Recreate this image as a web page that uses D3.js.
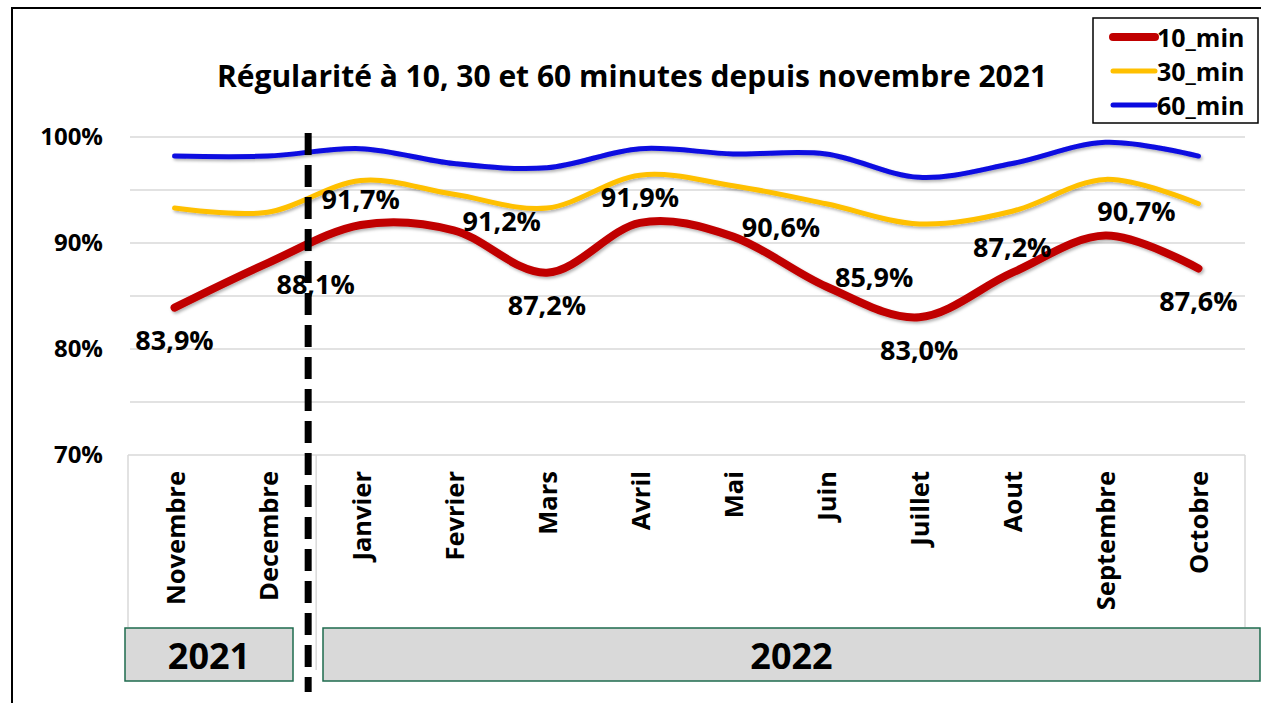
<!DOCTYPE html>
<html>
<head>
<meta charset="utf-8">
<script src="https://cdn.jsdelivr.net/npm/d3@7"></script>
<style>
  html, body { margin: 0; padding: 0; background: #fff; }
  svg { display: block; font-family: "Open Sans", sans-serif; font-weight: bold; }
</style>
</head>
<body>
<svg id="chart" width="1261" height="703"></svg>
<script>
// ######## chart data
const months = ["Novembre", "Decembre", "Janvier", "Fevrier", "Mars", "Avril",
                "Mai", "Juin", "Juillet", "Aout", "Septembre", "Octobre"];
const min10 = [83.9, 88.1, 91.7, 91.2, 87.2, 91.9, 90.6, 85.9, 83.0, 87.2, 90.7, 87.6];
const min30 = [93.3, 92.9, 95.9, 94.6, 93.3, 96.4, 95.4, 93.7, 91.8, 93.0, 96.0, 93.7];
const min60 = [98.2, 98.2, 98.9, 97.5, 97.1, 98.9, 98.4, 98.4, 96.2, 97.5, 99.5, 98.2];
const yTicks = [70, 80, 90, 100];
const years = ["2021", "2022"];
// where each 10_min label sits compared to its point
const labelPlace = ["below", "belowRight", "above", "right", "below", "above",
                    "right", "right", "below", "above", "aboveRight", "below"];

const series = [
  { name: "10_min", values: min10, color: "#c00000", width: 8 },
  { name: "30_min", values: min30, color: "#ffc000", width: 5 },
  { name: "60_min", values: min60, color: "#0a0ae0", width: 5 }
];

const svg = d3.select("#chart");

// ######## scales
const x = d3.scaleBand().domain(months).range([128, 1245]);
const xc = d => x(d) + x.bandwidth() / 2;
const y = d3.scaleLinear().domain([70, 100]).range([455, 137]);

// outer frame
svg.append("path")
  .attr("d", "M12,703 V8 H1261")
  .attr("fill", "none").attr("stroke", "#000").attr("stroke-width", 2);

// soft shadow under the lines
const defs = svg.append("defs");
defs.append("filter").attr("id", "shadow")
  .attr("x", "-5%").attr("y", "-20%").attr("width", "110%").attr("height", "140%")
  .append("feDropShadow")
  .attr("dx", 1.5).attr("dy", 2).attr("stdDeviation", 1.5)
  .attr("flood-color", "#000").attr("flood-opacity", 0.3);

// ######## gridlines (every 5%) and y labels (every 10%)
svg.append("g")
  .selectAll("line")
  .data(d3.range(75, 101, 5))
  .join("line")
  .attr("x1", 130).attr("x2", 1245)
  .attr("y1", d => y(d)).attr("y2", d => y(d))
  .attr("stroke", "#d9d9d9").attr("stroke-width", 1.5);

const yAxis = svg.append("g")
  .attr("transform", "translate(103,0)")
  .call(d3.axisLeft(y).tickValues(yTicks).tickSize(0).tickPadding(0).tickFormat(d => d + "%"));
yAxis.select(".domain").remove();
yAxis.selectAll("text")
  .attr("font-size", 24).attr("font-weight", "bold").attr("fill", "#000")
  .attr("font-family", "Open Sans, sans-serif");

// ######## category axis box
const axisBox = svg.append("g").attr("stroke", "#d9d9d9").attr("stroke-width", 1.5).attr("fill", "none");
axisBox.append("line").attr("x1", 128).attr("x2", 1245).attr("y1", y(70)).attr("y2", y(70));
axisBox.append("line").attr("x1", 128).attr("x2", 128).attr("y1", y(70)).attr("y2", 627);
axisBox.append("line").attr("x1", 1245).attr("x2", 1245).attr("y1", y(70)).attr("y2", 627);
axisBox.append("line")
  .attr("x1", x("Janvier") + 2).attr("x2", x("Janvier") + 2)
  .attr("y1", y(70)).attr("y2", 670);

svg.append("g")
  .selectAll("text")
  .data(months)
  .join("text")
  .attr("transform", d => `translate(${xc(d)},471) rotate(-90)`)
  .attr("text-anchor", "end")
  .attr("dominant-baseline", "central")
  .attr("font-size", 25.5)
  .text(d => d);

// ######## year boxes
const yearBox = [[125, 293], [323, 1260]];
const yearG = svg.append("g")
  .selectAll("g")
  .data(years)
  .join("g");
yearG.append("rect")
  .attr("x", (d, i) => yearBox[i][0])
  .attr("width", (d, i) => yearBox[i][1] - yearBox[i][0])
  .attr("y", 628).attr("height", 53)
  .attr("fill", "#d9d9d9").attr("stroke", "#1e6b4e").attr("stroke-width", 1.5);
yearG.append("text")
  .attr("x", (d, i) => (yearBox[i][0] + yearBox[i][1]) / 2)
  .attr("y", 655)
  .attr("text-anchor", "middle")
  .attr("dominant-baseline", "central")
  .attr("font-size", 36)
  .text(d => d);

// ######## lines
const line = d3.line()
  .x((d, i) => xc(months[i]))
  .y(d => y(d))
  .curve(d3.curveCatmullRom.alpha(0));

svg.append("g")
  .selectAll("path")
  .data(series.slice().reverse())
  .join("path")
  .attr("d", d => line(d.values))
  .attr("fill", "none")
  .attr("stroke", d => d.color)
  .attr("stroke-width", d => d.width)
  .attr("stroke-linecap", "round")
  .attr("filter", "url(#shadow)");

// ######## 10_min data labels
const offsets = {
  above: [0, -26], below: [0, 32], right: [48, -10],
  belowRight: [48, 20], aboveRight: [31, -25]
};
svg.append("g")
  .selectAll("text")
  .data(min10)
  .join("text")
  .attr("x", (d, i) => xc(months[i]) + offsets[labelPlace[i]][0])
  .attr("y", (d, i) => y(d) + offsets[labelPlace[i]][1])
  .attr("text-anchor", "middle")
  .attr("dominant-baseline", "central")
  .attr("font-size", 27)
  .text(d => d3.format(".1f")(d).replace(".", ",") + "%");

// ######## dashed separator 2021 / 2022
svg.append("line")
  .attr("x1", x("Janvier") - 6).attr("x2", x("Janvier") - 6)
  .attr("y1", 133).attr("y2", 692)
  .attr("stroke", "#000").attr("stroke-width", 7)
  .attr("stroke-dasharray", "22,10");

// ######## title
svg.append("text")
  .attr("x", 632).attr("y", 75)
  .attr("text-anchor", "middle")
  .attr("dominant-baseline", "central")
  .attr("font-size", 30)
  .text("Régularité à 10, 30 et 60 minutes depuis novembre 2021");

// ######## legend
const legend = svg.append("g");
legend.append("rect")
  .attr("x", 1093).attr("y", 18).attr("width", 165).attr("height", 105)
  .attr("fill", "#fff").attr("stroke", "#000").attr("stroke-width", 1.5);
const item = legend.selectAll("g")
  .data(series)
  .join("g")
  .attr("transform", (d, i) => `translate(0,${37 + i * 34})`);
item.append("line")
  .attr("x1", 1113).attr("x2", 1155)
  .attr("stroke", d => d.color)
  .attr("stroke-width", d => d.width)
  .attr("stroke-linecap", "round");
item.append("text")
  .attr("x", 1157)
  .attr("dominant-baseline", "central")
  .attr("font-size", 25)
  .text(d => d.name);
</script>
</body>
</html>
